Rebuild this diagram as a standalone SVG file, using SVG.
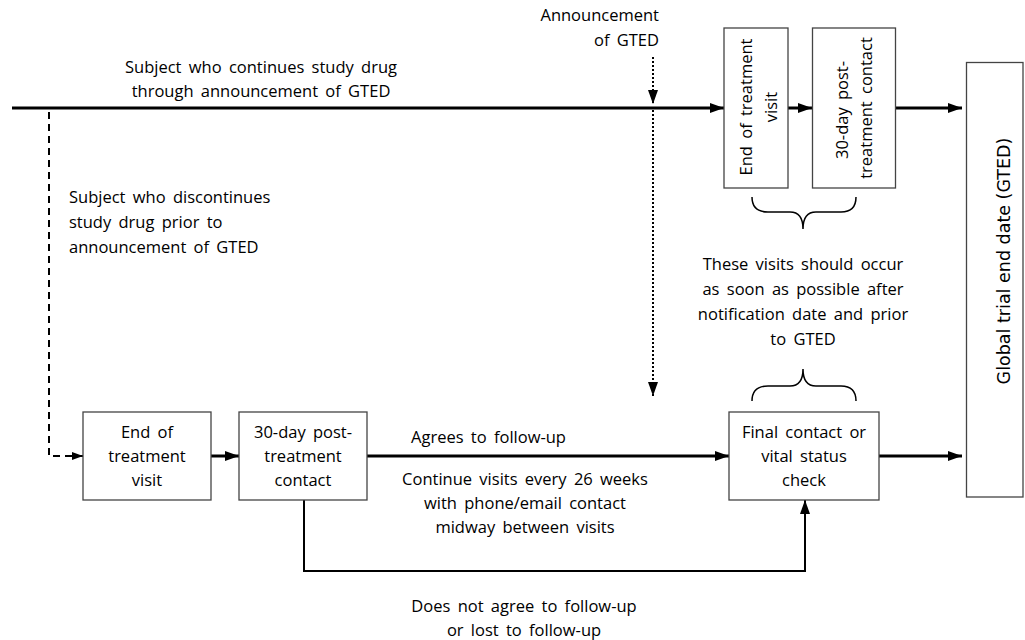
<svg xmlns="http://www.w3.org/2000/svg" width="1025" height="640" viewBox="0 0 1025 640">
<defs>
<marker id="ah" markerWidth="14" markerHeight="10" refX="14" refY="5" orient="auto" markerUnits="userSpaceOnUse"><path d="M0,0 L14,5 L0,10 Z" fill="#000"/></marker>
<marker id="ahs" markerWidth="11" markerHeight="8" refX="11" refY="4" orient="auto" markerUnits="userSpaceOnUse"><path d="M0,0 L11,4 L0,8 Z" fill="#000"/></marker>
</defs>
<style>
.t{font-family:"Open Sans","Liberation Sans",sans-serif;font-size:16.5px;word-spacing:3px;fill:#000}
.m{text-anchor:middle}
.box{fill:#fff;stroke:#444;stroke-width:1.3}
.thick{fill:none;stroke:#000;stroke-width:3}
.thin{fill:none;stroke:#000;stroke-width:2}
.brace{fill:none;stroke:#000;stroke-width:1.5}
</style>
<rect width="1025" height="640" fill="#fff"/>
<g id="connectors">
<line class="thick" x1="12" y1="108" x2="724" y2="108" marker-end="url(#ah)"/>
<line class="thick" x1="788" y1="108" x2="812" y2="108" marker-end="url(#ah)"/>
<line class="thick" x1="896" y1="108" x2="962" y2="108" marker-end="url(#ah)"/>
<line x1="653" y1="57" x2="653" y2="104" stroke="#000" stroke-width="2" stroke-dasharray="2,2" marker-end="url(#ah)"/>
<line x1="653" y1="110" x2="653" y2="396" stroke="#000" stroke-width="2" stroke-dasharray="2,2" marker-end="url(#ah)"/>
<path d="M49,112 V456 H83" fill="none" stroke="#000" stroke-width="2" stroke-dasharray="7,5" marker-end="url(#ahs)"/>
<line class="thick" x1="211" y1="456" x2="239" y2="456" marker-end="url(#ah)"/>
<line class="thick" x1="367" y1="456" x2="729" y2="456" marker-end="url(#ah)"/>
<line class="thick" x1="879" y1="456" x2="962" y2="456" marker-end="url(#ah)"/>
<path class="thin" d="M304,500 V571 H805 V500" marker-end="url(#ah)"/>
<path class="brace" d="M752,197 Q752,212 768,212 L790,212 Q803,212 803,229 Q803,212 816,212 L841,212 Q856,212 856,197"/>
<path class="brace" d="M752,401 Q752,386 768,386 L790,386 Q803,386 803,369 Q803,386 816,386 L841,386 Q856,386 856,401"/>
</g>
<g id="label-continues">
<text class="t m" x="261" y="73">Subject who continues study drug</text>
<text class="t m" x="261" y="97">through announcement of GTED</text>
</g>
<g id="label-discontinues">
<text class="t" x="69" y="203">Subject who discontinues</text>
<text class="t" x="69" y="228">study drug prior to</text>
<text class="t" x="69" y="253">announcement of GTED</text>
</g>
<g id="label-announcement">
<text class="t" x="659" y="21" text-anchor="end">Announcement</text>
<text class="t" x="659" y="46" text-anchor="end">of GTED</text>
</g>
<g id="eot-top">
<rect class="box" x="724" y="28" width="64" height="160"/>
<text class="t m" transform="translate(752,107) rotate(-90)">End of treatment</text>
<text class="t m" transform="translate(777,107) rotate(-90)">visit</text>
</g>
<g id="post30-top">
<rect class="box" x="812.5" y="28" width="83" height="160"/>
<text class="t m" transform="translate(848,110) rotate(-90)">30-day post-</text>
<text class="t m" transform="translate(872,108) rotate(-90)">treatment contact</text>
</g>
<g id="gted">
<rect class="box" x="966.5" y="62.5" width="56.5" height="434.5"/>
<text transform="translate(1010,261) rotate(-90)" text-anchor="middle" style="font-family:'DejaVu Sans',sans-serif;font-size:17.5px">Global trial end date (GTED)</text>
</g>
<g id="label-visits">
<text class="t m" x="803" y="270">These visits should occur</text>
<text class="t m" x="803" y="295">as soon as possible after</text>
<text class="t m" x="803" y="320">notification date and prior</text>
<text class="t m" x="803" y="345">to GTED</text>
</g>
<g id="eot-bottom">
<rect class="box" x="83" y="412" width="128" height="88"/>
<text class="t m" x="147" y="438">End of</text>
<text class="t m" x="147" y="462">treatment</text>
<text class="t m" x="147" y="486">visit</text>
</g>
<g id="post30-bottom">
<rect class="box" x="239" y="412" width="128" height="88"/>
<text class="t m" x="303" y="438">30-day post-</text>
<text class="t m" x="303" y="462">treatment</text>
<text class="t m" x="303" y="486">contact</text>
</g>
<g id="final">
<rect class="box" x="729" y="412" width="150" height="88"/>
<text class="t m" x="804" y="438">Final contact or</text>
<text class="t m" x="804" y="462">vital status</text>
<text class="t m" x="804" y="486">check</text>
</g>
<g id="label-agrees">
<text class="t" x="411" y="443">Agrees to follow-up</text>
<text class="t m" x="525" y="485">Continue visits every 26 weeks</text>
<text class="t m" x="525" y="509">with phone/email contact</text>
<text class="t m" x="525" y="533">midway between visits</text>
</g>
<g id="label-notagree">
<text class="t m" x="524" y="612">Does not agree to follow-up</text>
<text class="t m" x="524" y="636">or lost to follow-up</text>
</g>
</svg>
